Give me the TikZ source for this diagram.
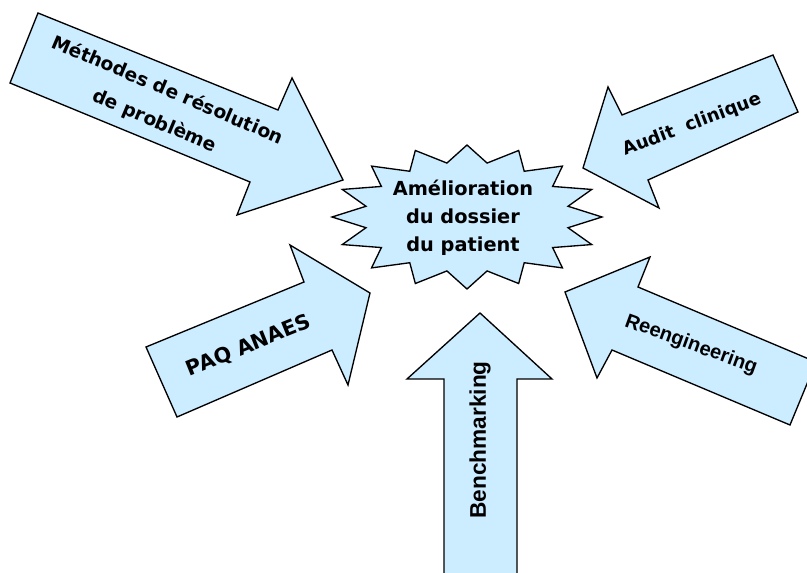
\documentclass[tikz,border=0pt]{standalone}
\usepackage{fontspec}
\setmainfont{DejaVu Sans}
\newfontfamily\arialfont{Liberation Sans}
\definecolor{paleblue}{RGB}{204,236,255}

\begin{document}
\begin{tikzpicture}[x=0.75pt,y=-0.75pt,
  blockarrow/.style={draw=black,fill=paleblue,line width=1pt,line join=miter},
  arrowtext/.style={font=\bfseries\fontsize{14}{25}\selectfont,align=center,inner sep=0pt}]
\def\cx{467}
\def\cy{217}

% page frame, arrows run off the right and bottom edges
\useasboundingbox (0,0) rectangle (807,573);
\clip (0,0) rectangle (807,573);

% the five block arrows
\draw[blockarrow] (38,13) -- (278,110) -- (292,78) -- (343,180) -- (237,215) -- (250,182) -- (10,83) -- cycle;
\draw[blockarrow] (773,55) -- (622,115) -- (608,87) -- (583,168) -- (659,208) -- (648,180) -- (798,112) -- cycle;
\draw[blockarrow] (146,347) -- (304,282) -- (290,245) -- (370,293) -- (348,385) -- (332,350) -- (177,417) -- cycle;
\draw[blockarrow] (816,362) -- (638,287) -- (650,257) -- (565,292) -- (597,378) -- (612,350) -- (790,425) -- cycle;
\draw[blockarrow] (444,600) -- (444,379) -- (407,379) -- (480,313) -- (552,379) -- (517,379) -- (517,600) -- cycle;

% star with 16 points round the goal
\draw[blockarrow, shift={(\cx,\cy)}] (0:135 and 72)
  \foreach \i in {0,...,15} { -- (\i*22.5+11.25:103 and 55) -- (\i*22.5+22.5:135 and 72) } -- cycle;

% texts
\node[arrowtext, rotate=-23] (methodes) at (161,106) {Méthodes de résolution\\de problème};
\node[arrowtext, rotate=21, font=\bfseries\fontsize{13.5}{16}\selectfont] (audit) at (692,125) {Audit~ clinique};
\node[arrowtext, rotate=22, font=\bfseries\fontsize{15.5}{18}\selectfont] (paq) at (249,346) {PAQ ANAES};
\node[arrowtext, rotate=-20, font=\arialfont\bfseries\fontsize{15}{18}\selectfont] (reeng) at (691,345) {Reengineering};
\node[arrowtext, rotate=90, font=\arialfont\bfseries\fontsize{17}{20}\selectfont] (bench) at (480,440) {Benchmarking};
\node[arrowtext, font=\bfseries\fontsize{14.5}{21}\selectfont] (amelio) at (463,218) {Amélioration\\du dossier\\du patient};

\end{tikzpicture}
\end{document}
